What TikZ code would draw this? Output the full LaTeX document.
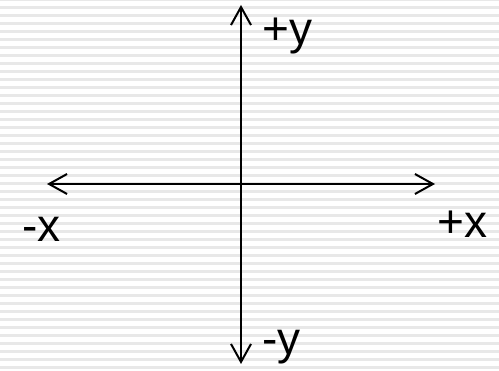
\documentclass[tikz,border=0pt]{standalone}
\usepackage{fontspec}
\setmainfont{Liberation Sans}
\usetikzlibrary{arrows.meta}

\begin{document}
\begin{tikzpicture}[
    x=1pt, y=-1pt,
    >={Straight Barb[length=18pt, width=20pt, line width=2pt]},
    axis/.style={line width=2pt, <->},
    lbl/.style={inner sep=0pt, anchor=base west, font=\fontsize{46}{46}\selectfont}
  ]
  % Background stripes
  \useasboundingbox (0,0) rectangle (499,371);
  \fill[white] (0,0) rectangle (499,371);
  \foreach \k in {0,...,47}
    \fill[gray!18] (0,8*\k-2) rectangle (499,8*\k+1);

  % Axes ends
  \coordinate (ytop) at (241,5);
  \coordinate (ybot) at (241,364);
  \coordinate (xleft) at (47,184);
  \coordinate (xright) at (435,184);

  \draw[axis] (xleft) -- (xright);
  \draw[axis] (ybot) -- (ytop);

  % Labels
  \node[lbl] (py) at (262,45) {+y};
  \node[lbl] (my) at (262,355) {-y};
  \node[lbl] (mx) at (22,242) {-x};
  \node[lbl] (px) at (437,238) {+x};
\end{tikzpicture}
\end{document}
